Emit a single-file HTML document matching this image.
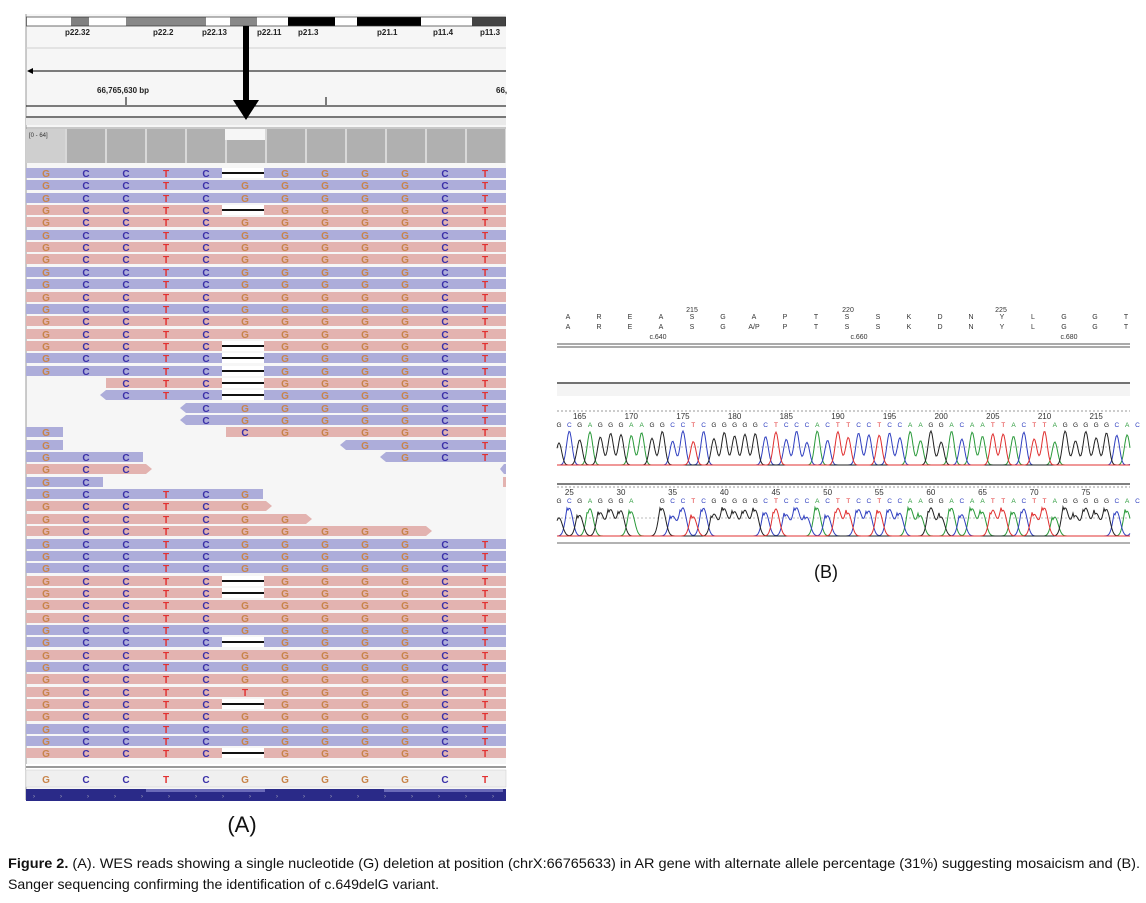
<!DOCTYPE html>
<html><head><meta charset="utf-8">
<style>
html,body{margin:0;padding:0;background:#fff;}
svg{display:block;}
</style></head>
<body>
<svg id="s" width="1146" height="903" xmlns="http://www.w3.org/2000/svg" font-family="Liberation Sans, sans-serif">
<rect width="1146" height="903" fill="#fff"/>
<rect x="26" y="14" width="480" height="786" fill="#f6f6f6"/>
<line x1="26" y1="14" x2="26" y2="800" stroke="#999" stroke-width="1"/>
<g id="ideo"></g>
<line x1="26" y1="48" x2="506" y2="48" stroke="#d0d0d0"/>
<line x1="30" y1="71" x2="506" y2="71" stroke="#000" stroke-width="1"/>
<polygon points="27,71 33,68 33,74" fill="#000"/>
<text x="97" y="93" font-size="8" font-weight="bold" fill="#222">66,765,630 bp</text>
<text x="496" y="93" font-size="8" font-weight="bold" fill="#222">66,</text>
<line x1="126" y1="97" x2="126" y2="105" stroke="#000"/>
<line x1="326" y1="97" x2="326" y2="105" stroke="#000"/>
<line x1="26" y1="106" x2="506" y2="106" stroke="#000"/>
<rect x="26" y="116" width="480" height="2" fill="#777"/>
<rect x="26" y="118" width="480" height="7" fill="#eaeaea"/>
<line x1="26" y1="128" x2="506" y2="128" stroke="#999"/>
<rect x="26" y="129" width="480" height="34" fill="#b0b0b0"/>
<g id="cov"></g>
<g id="reads"></g>
<rect x="26" y="766" width="480" height="2" fill="#999"/>
<rect x="26" y="770" width="480" height="17" fill="#f0f0f0" stroke="#ccc" stroke-width="0.5"/>
<g id="ref"></g>
<rect x="26" y="789" width="480" height="12" fill="#2a2a88"/>
<rect x="146" y="789" width="119" height="3" fill="#6a6ab8"/>
<rect x="384" y="789" width="119" height="3" fill="#6a6ab8"/>
<g id="chev"></g>
<rect x="243" y="26" width="6" height="76" fill="#000"/>
<polygon points="233,100 259,100 246,120" fill="#000"/>
<text x="242" y="832" font-size="22" text-anchor="middle" fill="#111">(A)</text>

<g id="hdr" font-size="7" fill="#333" text-anchor="middle"></g>
<line x1="557" y1="344" x2="1130" y2="344" stroke="#555" stroke-width="1"/>
<line x1="557" y1="347" x2="1130" y2="347" stroke="#555" stroke-width="1"/>
<line x1="557" y1="383" x2="1130" y2="383" stroke="#444" stroke-width="1.5"/>
<rect x="557" y="384" width="573" height="12" fill="#f4f4f4"/>
<g id="chrom"></g>
<text x="826" y="578" font-size="18" text-anchor="middle" fill="#111">(B)</text>

<text x="8" y="868" font-size="14" fill="#111" textLength="1132" lengthAdjust="spacingAndGlyphs"><tspan font-weight="bold">Figure 2.</tspan> (A). WES reads showing a single nucleotide (G) deletion at position (chrX:66765633) in AR gene with alternate allele percentage (31%) suggesting mosaicism and (B).</text>
<text x="8" y="889" font-size="14" fill="#111" textLength="431" lengthAdjust="spacingAndGlyphs">Sanger sequencing confirming the identification of c.649delG variant.</text>
</svg>
<script>
var NS="http://www.w3.org/2000/svg";
function el(p,t,a,txt){var e=document.createElementNS(NS,t);for(var k in a)e.setAttribute(k,a[k]);if(txt!=null)e.textContent=txt;document.getElementById(p).appendChild(e);return e;}
[[26,71,"#fff"],[71,89,"#808080"],[89,126,"#fff"],[126,206,"#888"],[206,230,"#fff"],[230,257,"#888"],[257,288,"#fff"],[288,335,"#000"],[335,357,"#fff"],[357,421,"#000"],[421,472,"#fff"],[472,506,"#444"]].forEach(function(b){el("ideo","rect",{x:b[0],y:17,width:b[1]-b[0],height:9,fill:b[2]});});
el("ideo","rect",{x:26.5,y:17,width:479,height:9,fill:"none",stroke:"#333","stroke-width":0.7});
[["p22.32",65],["p22.2",153],["p22.13",202],["p22.11",257],["p21.3",298],["p21.1",377],["p11.4",433],["p11.3",480]].forEach(function(l){el("ideo","text",{x:l[1],y:35,"font-size":8,"font-weight":"bold",fill:"#222"},l[0]);});
for(var i=0;i<12;i++){var x=26+40*i;el("cov","line",{x1:x+40,y1:129,x2:x+40,y2:163,stroke:"#fff","stroke-width":1});}
el("cov","rect",{x:26,y:129,width:39,height:34,fill:"#cfcfcf"});
el("cov","text",{x:29,y:137,"font-size":6,fill:"#333"},"[0 - 64]");
el("cov","rect",{x:225,y:129,width:40,height:11,fill:"#f6f6f6"});
var seq="GCCTCGGGGGCT".split("");
var LC={G:"#c8844a",C:"#3a30a8",T:"#e23030"};
var B="#adadda",R="#e3b3b0";
var rows=[
["b",0,12,1],["b",0,12],["b",0,12],["r",0,12,1],["r",0,12],["b",0,12],["r",0,12],["r",0,12],["b",0,12],["b",0,12],
["r",0,12],["b",0,12],["r",0,12],["r",0,12],["r",0,12,1],["b",0,12,1],["b",0,12,1],["r",2,12,1],["b",2,12,1,1],["b",4,12,0,1],
["b",4,12,0,1],[["b",0,1],["r",5,12,0,0,0,{5:"C"}]],[["b",0,1],["b",8,12,0,1]],[["b",0,3],["b",9,12,0,1]],[["r",0,3,0,0,1],["bx"]],[["b",0,2],["rx"]],["b",0,6],["r",0,6,0,0,1],["r",0,7,0,0,1],["r",0,10,0,0,1],
["b",0,12],["b",0,12],["b",0,12],["r",0,12,1],["r",0,12,1],["r",0,12],["r",0,12],["b",0,12],["b",0,12,1],["r",0,12],
["b",0,12],["r",0,12],["r",0,12,0,0,0,{5:"T"}],["r",0,12,1],["r",0,12],["b",0,12],["b",0,12],["r",0,12,1],["b",0,12]];
function drawSeg(y,s){
  if(s[0]=="bx"){el("reads","polygon",{points:"500,"+(y+5)+" 504,"+y+" 506,"+y+" 506,"+(y+10)+" 504,"+(y+10),fill:B});return;}
  if(s[0]=="rx"){el("reads","rect",{x:503,y:y,width:3,height:10,fill:R});return;}
  var c=s[0]=="b"?B:R, x0=26+40*s[1], x1=26+40*s[2];
  if(s[2]<12&&!s[5])x1-=3;
  var pts;
  if(s[4]) pts=[[x0,y],[x1,y],[x1,y+10],[x0,y+10],[x0-6,y+5]];
  else if(s[5]) pts=[[x0,y],[x1,y],[x1+6,y+5],[x1,y+10],[x0,y+10]];
  else pts=[[x0,y],[x1,y],[x1,y+10],[x0,y+10]];
  el("reads","polygon",{points:pts.map(function(p){return p.join(",")}).join(" "),fill:c});
  if(s[3]){el("reads","rect",{x:222,y:y,width:42,height:10,fill:"#fff"});el("reads","rect",{x:222,y:y+4,width:42,height:2,fill:"#111"});}
  for(var k=s[1];k<s[2];k++){ if(s[3]&&k==5)continue; var L=(s[6]&&s[6][k])||seq[k];
    el("reads","text",{x:46+40*k-(k>=5?1:0),y:y+9,"font-size":10,"font-weight":"bold","text-anchor":"middle",fill:LC[L]},L);}
}
for(var r=0;r<rows.length;r++){var y=Math.round(168+r*12.35); if(y>760)break;
  var row=rows[r]; var segs=Array.isArray(row[0])?row:[row];
  segs.forEach(function(s){drawSeg(y,s);});}
el("reads","rect",{x:26,y:764,width:480,height:6,fill:"#fff"});
for(var k=0;k<12;k++)el("ref","text",{x:46+40*k-(k>=5?1:0),y:783,"font-size":10,"font-weight":"bold","text-anchor":"middle",fill:LC[seq[k]]},seq[k]);
for(var x=33;x<506;x+=27)el("chev","text",{x:x,y:798,"font-size":6,fill:"#aab"},"›");
var h1="A R E A S G A P T S S K D N Y L G G T".split(" ");
var h2="A R E A S G A/P P T S S K D N Y L G G T".split(" ");
for(var i=0;i<19;i++){var x=568+i*31.0;el("hdr","text",{x:x,y:319},h1[i]);el("hdr","text",{x:x,y:329},h2[i]);}
el("hdr","text",{x:692,y:312},"215");el("hdr","text",{x:848,y:312},"220");el("hdr","text",{x:1001,y:312},"225");
el("hdr","text",{x:658,y:339},"c.640");el("hdr","text",{x:859,y:339},"c.660");el("hdr","text",{x:1069,y:339},"c.680");
var CC={A:"#2a9a3a",C:"#3040c0",G:"#222",T:"#e03030"};
function chrom(top,seq,n0,nlab,base,noisy,peakH){
  var g="chrom";
  el(g,"line",{x1:557,y1:top,x2:1130,y2:top,stroke:"#999","stroke-dasharray":"2,2"});
  el(g,"line",{x1:557,y1:base,x2:1130,y2:base,stroke:"#888","stroke-dasharray":"2,1"});
  el(g,"line",{x1:557,y1:base-18,x2:1130,y2:base-18,stroke:"#bbb","stroke-dasharray":"2,2"});
  var dx=10.33, x0=559;
  for(var i=0;i<seq.length;i++){var b=seq[i],x=x0+i*dx;
    el(g,"text",{x:x,y:top+16,"font-size":6.5,fill:CC[b]||"#333","text-anchor":"middle"},b);}
  for(var n=0;n<11;n++){var idx=n0+n*5;var x=x0+idx*dx;el(g,"text",{x:x,y:top+8,"font-size":8,fill:"#333","text-anchor":"middle"},String(nlab+n*5));}
  ["A","C","G","T"].forEach(function(B){
    var d="";
    for(var x=557;x<=1130;x+=1){var v=0;
      for(var i=0;i<seq.length;i++){if(seq[i]!=B)continue;var px=x0+i*dx;var h=peakH*(0.65+0.35*Math.abs(Math.sin(i*1.7)));
        v+=h*Math.exp(-Math.pow((x-px)/(noisy?4.8:3.8),2));}
      if(noisy){var j=Math.floor((x-557)/dx);var alt=seq[(j+1)%seq.length];if(alt==B){var px=x0+j*dx+dx/2;v+=peakH*0.3*Math.exp(-Math.pow((x-px-dx*0.5)/4,2));}}
      var y=base-v; d+=(x==557?"M":"L")+x+","+y.toFixed(1);}
    el(g,"path",{d:d,fill:"none",stroke:CC[B],"stroke-width":1});
  });
}
var s1="GCGAGGGAAGGCCTCGGGGGCTCCCACTTCCTCCAAGGACAATTACTTAGGGGGCAC";
chrom(411,s1,2,165,465,false,34);
el("chrom","line",{x1:557,y1:484,x2:1130,y2:484,stroke:"#555","stroke-width":1.5});
var s2="GCGAGGGA..GCCTCGGGGGCTCCCACTTCCTCCAAGGACAATTACTTAGGGGGCAC".replace(/\./g," ");
chrom(487,s2,1,25,536,true,28);
el("chrom","line",{x1:557,y1:543,x2:1130,y2:543,stroke:"#666","stroke-width":1});
</script>
</body></html>
